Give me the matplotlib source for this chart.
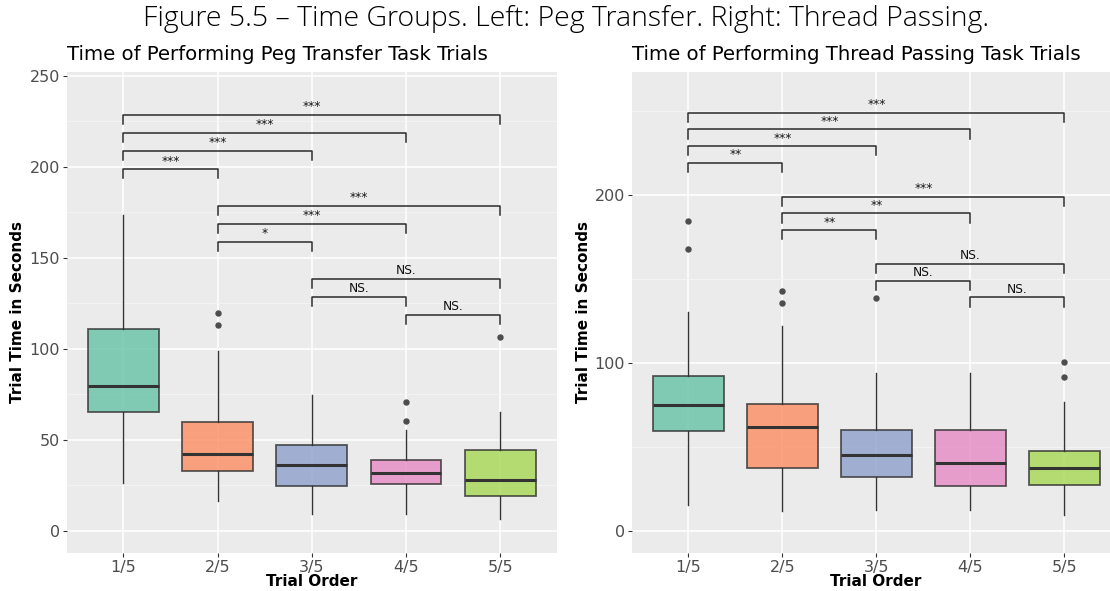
import matplotlib
matplotlib.use("Agg")
import matplotlib.pyplot as plt
import matplotlib.ticker as ticker

plt.rcParams['font.family'] = ['DejaVu Sans']

# trial order categories
trials = ['1/5', '2/5', '3/5', '4/5', '5/5']
box_colors = ['#66C2A5', '#FC8D62', '#8DA0CB', '#E78AC3', '#A6D854']

# peg transfer box stats (seconds)
peg_q1 = [65.5, 32.7, 24.6, 25.7, 19.1]
peg_med = [79.4, 42.2, 36.0, 31.9, 28.1]
peg_q3 = [111.0, 59.8, 47.0, 39.1, 44.2]
peg_lo = [26.2, 16.3, 9.4, 9.2, 6.8]
peg_hi = [173.5, 98.7, 74.5, 55.6, 65.3]
peg_out = [[], [119.8, 113.0], [], [70.6, 60.2], [106.6]]

# thread passing box stats (seconds)
thr_q1 = [59.5, 37.3, 32.3, 26.6, 27.4]
thr_med = [75.0, 62.1, 45.2, 40.5, 37.5]
thr_q3 = [92.1, 75.4, 59.9, 59.9, 47.6]
thr_lo = [15.3, 11.7, 12.7, 12.3, 9.3]
thr_hi = [130.2, 122.0, 94.0, 94.0, 76.6]
thr_out = [[184.7, 167.7], [142.7, 135.7], [138.5], [], [100.8, 91.9]]

# significance brackets: (group a, group b, y, label)
pairs = [(1, 5), (1, 4), (1, 3), (1, 2), (2, 5), (2, 4), (2, 3), (3, 5), (3, 4), (4, 5)]
peg_sig_y = [228.5, 218.5, 208.5, 198.5, 178.5, 168.5, 158.5, 138.5, 128.5, 118.5]
peg_sig = ['***', '***', '***', '***', '***', '***', '*', 'NS.', 'NS.', 'NS.']
thr_sig_y = [249, 239, 229, 219, 199, 189, 179, 159, 149, 139]
thr_sig = ['***', '***', '***', '**', '***', '**', '**', 'NS.', 'NS.', 'NS.']


def draw_panel(ax, q1, med, q3, lo, hi, out, sig_y, sig, ylim, major, tip):
    ax.set_facecolor('#EBEBEB')
    stats = []
    for i in range(len(trials)):
        stats.append(dict(q1=q1[i], med=med[i], q3=q3[i], whislo=lo[i],
                          whishi=hi[i], fliers=out[i], label=trials[i]))
    bp = ax.bxp(stats, positions=range(1, 6), widths=0.75, patch_artist=True,
                showfliers=True, manage_ticks=False,
                boxprops=dict(edgecolor='#333333', linewidth=1.3),
                medianprops=dict(color='#333333', linewidth=2.2),
                whiskerprops=dict(color='#333333', linewidth=1.0),
                capprops=dict(linewidth=0),
                flierprops=dict(marker='o', markerfacecolor='#4D4D4D',
                                markeredgecolor='#4D4D4D', markersize=3.6))
    for patch, c in zip(bp['boxes'], box_colors):
        patch.set_facecolor(c)
        patch.set_alpha(0.8)
        patch.set_edgecolor((0.2, 0.2, 0.2, 0.85))
    for (a, b), y, s in zip(pairs, sig_y, sig):
        ax.plot([a, a, b, b], [y - tip, y, y, y - tip], color='#2b2b2b', lw=1.1)
        ax.text((a + b) / 2, y + 1.0, s, ha='center', va='bottom', fontsize=8.8,
                color='#111111')
    ax.set_xlim(0.4, 5.6)
    ax.set_ylim(*ylim)
    ax.set_xticks(range(1, 6))
    ax.set_xticklabels(trials)
    ax.yaxis.set_major_locator(ticker.MultipleLocator(major))
    ax.yaxis.set_minor_locator(ticker.MultipleLocator(major / 2))
    ax.grid(which='major', color='white', lw=1.1)
    ax.grid(which='minor', axis='y', color='#F5F5F5', lw=0.6)
    ax.set_axisbelow(True)
    for sp in ax.spines.values():
        sp.set_visible(False)
    ax.tick_params(axis='both', which='major', length=3, width=0.8, color='#333333',
                   labelcolor='#4D4D4D', labelsize=11.5, pad=2)
    ax.tick_params(axis='y', which='minor', length=0)


fig = plt.figure(figsize=(11.1, 5.91), dpi=100)
ax1 = fig.add_axes([66.8 / 1110, 37.7 / 591, 490 / 1110, 481 / 591])
ax2 = fig.add_axes([632 / 1110, 37.7 / 591, 488.7 / 1110, 481 / 591])

draw_panel(ax1, peg_q1, peg_med, peg_q3, peg_lo, peg_hi, peg_out,
           peg_sig_y, peg_sig, (-12.3, 251.8), 50, 5.0)
draw_panel(ax2, thr_q1, thr_med, thr_q3, thr_lo, thr_hi, thr_out,
           thr_sig_y, thr_sig, (-13.3, 273.0), 100, 5.5)

fig.text(566 / 1110, 1 - 19 / 591,
         'Figure 5.5 – Time Groups. Left: Peg Transfer. Right: Thread Passing.',
         ha='center', va='center', fontsize=20.5, family='Open Sans', fontweight='light')
fig.text(67 / 1110, 1 - 55 / 591, 'Time of Performing Peg Transfer Task Trials',
         ha='left', va='center', fontsize=14.2, color='black')
fig.text(632 / 1110, 1 - 55 / 591, 'Time of Performing Thread Passing Task Trials',
         ha='left', va='center', fontsize=14.2, color='black')

for x in (18, 583):
    fig.text(x / 1110, 1 - 312 / 591, 'Trial Time in Seconds', rotation=90,
             ha='center', va='center', fontsize=11, fontweight='bold')
for x in (312, 876):
    fig.text(x / 1110, 1 - 582 / 591, 'Trial Order', ha='center', va='center',
             fontsize=11, fontweight='bold')

plt.savefig('out.png', dpi=100)
